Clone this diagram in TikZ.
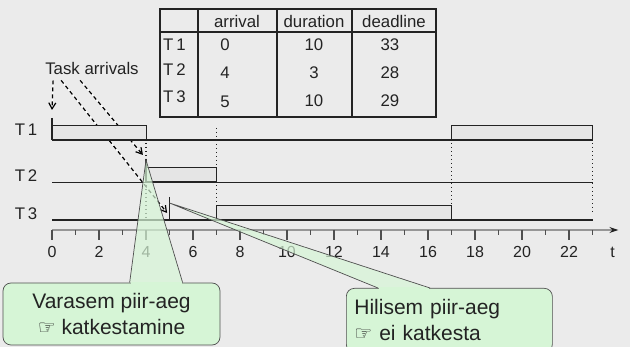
\documentclass[tikz,border=0pt]{standalone}
\usepackage{fontspec}
\setmainfont{Liberation Sans}
\newfontfamily\handfont{DejaVu Sans}
\usetikzlibrary{arrows.meta, positioning, calc}
\definecolor{SlideGray}{RGB}{235, 235, 235}
\definecolor{BarGray}{RGB}{229, 229, 229}
\definecolor{InkDark}{RGB}{35, 35, 35}
\definecolor{AxisGray}{RGB}{150, 150, 150}
\definecolor{NoteGreen}{RGB}{214, 245, 214}

\begin{document}
\begin{tikzpicture}[
    x=1pt, y=-1pt,
    every node/.style={font=\fontsize{16.8}{19}\selectfont, inner sep=0pt, text=InkDark},
    taskbar/.style={draw=InkDark, fill=BarGray, line width=1pt},
    busyline/.style={draw=InkDark, line width=1.6pt},
    idleline/.style={draw=InkDark, line width=0.6pt},
    release/.style={draw=InkDark, line width=1.4pt},
    guide/.style={draw=InkDark, line width=1.2pt, dash pattern=on 1.3pt off 2.7pt},
    tablegrid/.style={draw=InkDark, line width=1.1pt},
    arrivalarrow/.style={draw=white, line width=1.2pt,
        postaction={draw=black, line width=1.2pt, dash pattern=on 4pt off 3pt, -{Straight Barb[length=6pt, width=7pt]}}},
    timeaxis/.style={draw=AxisGray, line width=1.6pt, -{Stealth[length=9pt, width=6pt, color=InkDark]}},
    tick/.style={draw=InkDark!80, line width=1.2pt},
    ticklabel/.style={font=\fontsize{16}{18}\selectfont},
    note/.style={draw=InkDark!80, fill=NoteGreen, rounded corners=8pt, line width=0.7pt,
        font=\fontsize{21}{26}\selectfont},
    pointer/.style={draw=InkDark!80, line width=0.7pt, line join=miter}
  ]
    \clip (0,0) rectangle (630,347);
    \fill[SlideGray] (0,0) rectangle (630,347);

    % Task parameters
    \draw[tablegrid] (160,9) rectangle (436,117);
    \draw[tablegrid] (160,32) -- (436,32);
    \draw[tablegrid] (198,9) -- (198,117);
    \draw[tablegrid] (277,9) -- (277,117);
    \draw[tablegrid] (352,9) -- (352,117);
    \node (hdr_arr) at (237,21) {arrival};
    \node (hdr_dur) at (314,21) {duration};
    \node (hdr_dl) at (394,21) {deadline};
    \node[anchor=west] (row_t1) at (163,45) {T\,1};
    \node[anchor=west] (row_t2) at (163,70) {T\,2};
    \node[anchor=west] (row_t3) at (163,97) {T\,3};
    \node (arr_t1) at (225,45) {0};
    \node (arr_t2) at (225,73) {4};
    \node (arr_t3) at (225,102) {5};
    \node (dur_t1) at (314,45) {10};
    \node (dur_t2) at (314,73) {3};
    \node (dur_t3) at (314,101) {10};
    \node (dl_t1) at (390,45) {33};
    \node (dl_t2) at (390,73) {28};
    \node (dl_t3) at (390,101) {29};

    % Task names
    \node (name_t1) at (26,130) {T\,1};
    \node (name_t2) at (26,176) {T\,2};
    \node (name_t3) at (26,214) {T\,3};

    \node (arrivals) at (92,68) {Task arrivals};
    \coordinate (from_t1) at ($(arrivals.south west)+(8,6)$);
    \coordinate (from_t3) at ($(arrivals.south west)+(16,6)$);
    \coordinate (from_t2) at ($(arrivals.south west)+(35,6)$);

    % Schedule, one unit of time per x step
    \begin{scope}[shift={(52,0)}, x=23.5pt]
      \coordinate (hit_t1) at (0,110);
      \coordinate (hit_t2) at (3.87,155);
      \coordinate (hit_t3) at (4.9,213);
      \coordinate (tip_t2) at (4,160);
      \coordinate (tip_t3) at (5,203);

      \draw[arrivalarrow] (from_t1) -- (hit_t1);
      \draw[arrivalarrow] (from_t2) -- (hit_t2);
      \draw[arrivalarrow] (from_t3) -- (hit_t3);

      % T1
      \draw[busyline] (0,140) -- (23,140);
      \draw[taskbar] (0,126) rectangle (4,140);
      \draw[taskbar] (17,126) rectangle (23,140);
      \draw[release] (0,118) -- (0,140);
      % T2
      \draw[idleline] (0,182) -- (23,182);
      \draw[taskbar] (4,168) rectangle (7,182);
      \draw[release] (4,159) -- (4,182);
      % T3
      \draw[busyline] (0,220) -- (23,220);
      \draw[taskbar] (7,206) rectangle (17,220);
      \draw[release] (5,197) -- (5,220);

      % switch instants
      \draw[guide] (4,143) -- (4,166);
      \draw[guide] (4,185) -- (4,218);
      \draw[guide] (7,128) -- (7,166);
      \draw[guide] (7,185) -- (7,204);
      \draw[guide] (17,143) -- (17,204);
      \draw[guide] (23,143) -- (23,212);

      % time axis
      \draw[timeaxis] (0,230) -- (24.1,230);
      \foreach \t in {0,2,...,22} {
        \draw[tick] (\t,230) -- (\t,240);
        \node[ticklabel] (lab_\t) at (\t,252) {\t};
      }
      \foreach \t in {1,3,...,23}
        \draw[tick] (\t,230) -- (\t,235);
      \node[ticklabel] (lab_t) at (23.85,252) {t};
    \end{scope}

    % Callouts
    \node[note, minimum width=217pt, minimum height=62pt, align=center] (note_early) at (111.5,314)
      {Varasem piir-aeg\\{\handfont\fontsize{20}{20}\selectfont ☞} katkestamine};
    \node[note, anchor=north west, text width=190pt, inner xsep=8pt, minimum height=64pt, align=left] (note_late) at (346,288)
      {Hilisem piir-aeg\\{\handfont\fontsize{20}{20}\selectfont ☞} ei katkesta};

    \coordinate (early_l) at ($(note_early.north west)+(127,0)$);
    \coordinate (early_r) at ($(note_early.north west)+(180,0)$);
    \coordinate (late_l) at ($(note_late.north west)+(32,0)$);
    \coordinate (late_r) at ($(note_late.north west)+(84,0)$);

    \fill[NoteGreen, fill opacity=0.7] (early_l) -- (tip_t2) -- (early_r) -- cycle;
    \fill[NoteGreen] ($(early_l)+(1,-1)$) rectangle ($(early_r)+(-1,1.5)$);
    \draw[pointer] (early_l) -- (tip_t2) -- (early_r);

    \fill[NoteGreen, fill opacity=0.7] (late_l) -- (tip_t3) -- (late_r) -- cycle;
    \fill[NoteGreen] ($(late_l)+(1,-1)$) rectangle ($(late_r)+(-1,1.5)$);
    \draw[pointer] (late_l) -- (tip_t3) -- (late_r);
  \end{tikzpicture}
\end{document}
